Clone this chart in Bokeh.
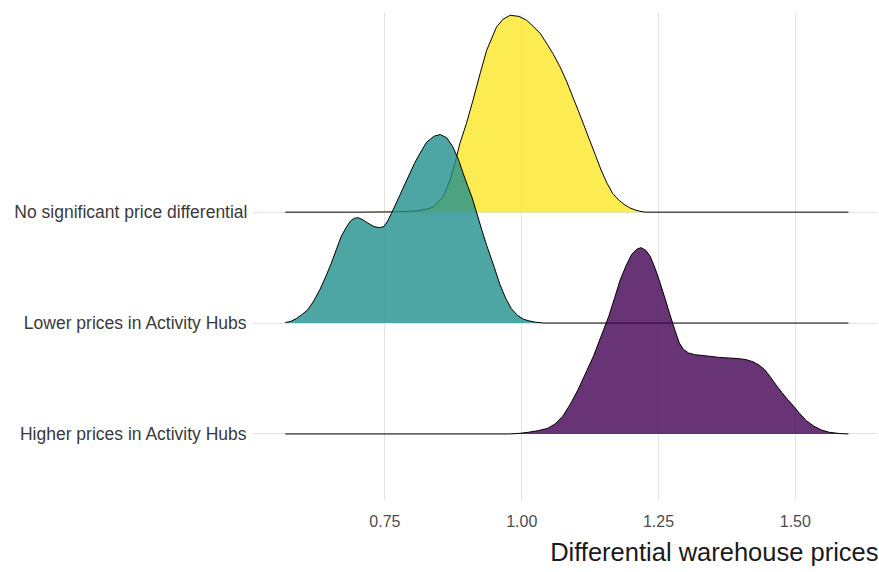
from bokeh.plotting import figure
from bokeh.models import FixedTicker, NumeralTickFormatter, Range1d, Title
from bokeh.embed import file_html
from bokeh.resources import INLINE

# ---- data ----
categories = ["Higher prices in Activity Hubs",
              "Lower prices in Activity Hubs",
              "No significant price differential"]
fill_colors = ["#440154", "#21908C", "#FDE725"]

higher_x = [0.568, 0.978, 0.995, 1.012, 1.030, 1.047, 1.061, 1.075, 1.089, 1.103, 1.117,
            1.131, 1.145, 1.159, 1.170, 1.180, 1.191, 1.201, 1.210, 1.218, 1.227, 1.235,
            1.244, 1.253, 1.262, 1.270, 1.279, 1.288, 1.296, 1.305, 1.316, 1.326, 1.344,
            1.361, 1.378, 1.395, 1.410, 1.423, 1.434, 1.444, 1.455, 1.465, 1.476, 1.486,
            1.497, 1.507, 1.520, 1.534, 1.548, 1.562, 1.580, 1.597]
higher_h = [0.0, 0.0, 0.005, 0.015, 0.03, 0.05, 0.09, 0.16, 0.27, 0.40, 0.55,
            0.70, 0.88, 1.06, 1.23, 1.39, 1.52, 1.62, 1.665, 1.68, 1.655, 1.60,
            1.49, 1.36, 1.22, 1.09, 0.95, 0.82, 0.76, 0.73, 0.715, 0.71, 0.70,
            0.69, 0.685, 0.68, 0.67, 0.65, 0.62, 0.58, 0.51, 0.44, 0.37, 0.31,
            0.25, 0.19, 0.12, 0.07, 0.035, 0.015, 0.004, 0.0]

lower_x = [0.568, 0.578, 0.588, 0.598, 0.609, 0.620, 0.631, 0.642, 0.652, 0.661, 0.670,
           0.679, 0.687, 0.694, 0.701, 0.710, 0.719, 0.730, 0.740, 0.748, 0.755, 0.762,
           0.777, 0.790, 0.804, 0.814, 0.826, 0.840, 0.851, 0.863, 0.874, 0.884, 0.893,
           0.901, 0.909, 0.918, 0.927, 0.936, 0.950, 0.960, 0.971, 0.981, 0.992, 1.003,
           1.013, 1.025, 1.040, 1.597]
lower_h = [0.005, 0.015, 0.04, 0.075, 0.12, 0.20, 0.30, 0.42, 0.54, 0.66, 0.78,
           0.86, 0.92, 0.945, 0.95, 0.93, 0.90, 0.87, 0.86, 0.87, 0.92, 0.99,
           1.15, 1.29, 1.44, 1.53, 1.63, 1.685, 1.70, 1.67, 1.59, 1.48, 1.35,
           1.24, 1.135, 0.99, 0.84, 0.70, 0.50, 0.35, 0.22, 0.13, 0.07, 0.035,
           0.02, 0.008, 0.0, 0.0]

nosig_x = [0.568, 0.700, 0.760, 0.790, 0.809, 0.825, 0.838, 0.856, 0.869, 0.878, 0.887,
           0.899, 0.911, 0.924, 0.936, 0.954, 0.966, 0.979, 0.995, 1.009, 1.022, 1.034,
           1.047, 1.057, 1.070, 1.082, 1.094, 1.103, 1.114, 1.124, 1.135, 1.145, 1.156,
           1.166, 1.177, 1.187, 1.197, 1.207, 1.216, 1.225, 1.597]
nosig_h = [0.0, 0.0, 0.002, 0.006, 0.012, 0.025, 0.045, 0.135, 0.29, 0.44, 0.62,
           0.80, 1.01, 1.25, 1.46, 1.67, 1.74, 1.775, 1.765, 1.73, 1.67, 1.61,
           1.51, 1.43, 1.31, 1.18, 1.03, 0.92, 0.78, 0.65, 0.51, 0.38, 0.26,
           0.17, 0.11, 0.07, 0.04, 0.02, 0.008, 0.0, 0.0]

x_ticks = [0.75, 1.00, 1.25, 1.50]
x_title = "Differential warehouse prices"

series = [(higher_x, higher_h), (lower_x, lower_h), (nosig_x, nosig_h)]
baselines = [1, 2, 3]

FONT = "Liberation Sans"

p = figure(frame_width=626, frame_height=488, output_backend="svg", toolbar_location=None,
           x_range=Range1d(0.508, 1.652), y_range=Range1d(0.40, 4.80),
           min_border_left=252, min_border_right=0, min_border_top=12,
           min_border_bottom=0)
p.outline_line_color = None
p.background_fill_color = "white"
p.border_fill_color = "white"

# grids
p.xgrid.ticker = FixedTicker(ticks=x_ticks)
p.ygrid.ticker = FixedTicker(ticks=baselines)
p.xgrid.grid_line_color = "#e3e3e3"
p.ygrid.grid_line_color = "#e3e3e3"
p.xgrid.grid_line_width = 1
p.ygrid.grid_line_width = 1

# ridges: top first so lower ones overlay
for i in [2, 1, 0]:
    xs, hs = series[i]
    base = baselines[i]
    top = [base + h for h in hs]
    p.varea(x=xs, y1=[base] * len(xs), y2=top, fill_color=fill_colors[i], fill_alpha=0.8)
    p.line(x=xs, y=top, line_color="black", line_width=1, line_join="round")

# x axis
xa = p.xaxis[0]
xa.ticker = FixedTicker(ticks=x_ticks)
xa.formatter = NumeralTickFormatter(format="0.00")
xa.axis_line_color = None
xa.major_tick_line_color = None
xa.minor_tick_line_color = None
xa.major_tick_out = 0
xa.major_tick_in = 0
xa.major_label_standoff = 14
xa.major_label_text_font = FONT
xa.major_label_text_font_size = "16px"
xa.major_label_text_color = "#4d4d4d"

# y axis
ya = p.yaxis[0]
ya.ticker = FixedTicker(ticks=baselines)
ya.major_label_overrides = {b: c for b, c in zip(baselines, categories)}
ya.axis_line_color = None
ya.major_tick_line_color = None
ya.minor_tick_line_color = None
ya.major_tick_out = 0
ya.major_tick_in = 0
ya.major_label_standoff = 5
ya.major_label_text_font = FONT
ya.major_label_text_font_size = "17.5px"
ya.major_label_text_color = "#3a3a3a"

p.add_layout(Title(text=x_title, align="right", text_font=FONT, text_font_size="25.5px",
                   text_font_style="normal", text_color="#1a1a1a", standoff=12), "below")

open("out.html", "w").write(file_html(p, INLINE))
